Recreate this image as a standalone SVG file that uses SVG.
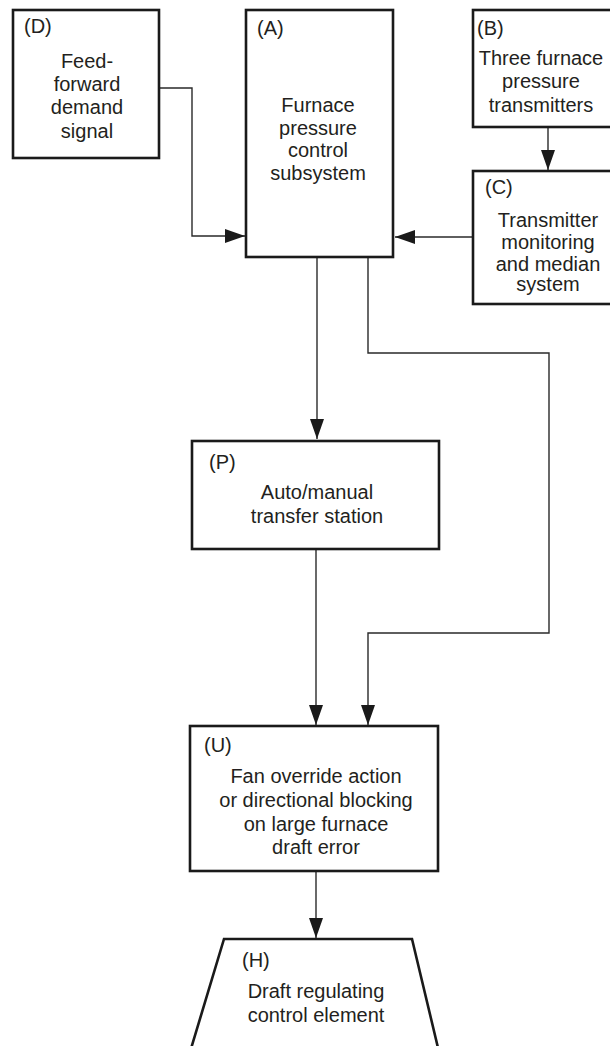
<svg xmlns="http://www.w3.org/2000/svg" width="610" height="1046" viewBox="0 0 610 1046">
  <style>
    .box { fill: #ffffff; stroke: #1a1a1a; stroke-width: 2.6; }
    .conn { fill: none; stroke: #2a2a2a; stroke-width: 1.4; marker-end: url(#arrow); }
    text { font-family: "Liberation Sans", Arial, Helvetica, sans-serif; font-size: 20px; fill: #231f20; }
    .c { text-anchor: middle; }
  </style>
  <defs>
    <marker id="arrow" markerUnits="userSpaceOnUse" markerWidth="21" markerHeight="15" refX="20" refY="7" orient="auto">
      <path d="M0,0 L20,7 L0,14 Z" fill="#1a1a1a"/>
    </marker>
  </defs>
  <rect width="610" height="1046" fill="#ffffff"/>

  <g id="connectors">
    <path class="conn" d="M159,88 H192 V236 H245"/>
    <path class="conn" d="M473,237 H395"/>
    <path class="conn" d="M548,127 V170"/>
    <path class="conn" d="M317,257 V439"/>
    <path class="conn" d="M368,257 V353 H549 V633 H368 V725"/>
    <path class="conn" d="M316,549 V725"/>
    <path class="conn" d="M316,871 V938"/>
  </g>

  <g id="node-D">
    <rect class="box" x="13" y="10" width="146" height="148"/>
    <text x="24" y="33">(D)</text>
    <text class="c" x="87" y="68">Feed-</text>
    <text class="c" x="87" y="91">forward</text>
    <text class="c" x="87" y="114">demand</text>
    <text class="c" x="87" y="138">signal</text>
  </g>

  <g id="node-A">
    <rect class="box" x="246" y="10" width="147" height="247"/>
    <text x="257" y="35">(A)</text>
    <text class="c" x="318" y="112">Furnace</text>
    <text class="c" x="318" y="134.5">pressure</text>
    <text class="c" x="318" y="157">control</text>
    <text class="c" x="318" y="179.5">subsystem</text>
  </g>

  <g id="node-B">
    <rect class="box" x="473" y="10" width="142" height="117"/>
    <text x="477" y="35">(B)</text>
    <text class="c" x="541" y="65">Three furnace</text>
    <text class="c" x="541" y="88">pressure</text>
    <text class="c" x="541" y="112">transmitters</text>
  </g>

  <g id="node-C">
    <rect class="box" x="473" y="171" width="142" height="133"/>
    <text x="485" y="194">(C)</text>
    <text class="c" x="548" y="227">Transmitter</text>
    <text class="c" x="548" y="248.5">monitoring</text>
    <text class="c" x="548" y="271">and median</text>
    <text class="c" x="548" y="291">system</text>
  </g>

  <g id="node-P">
    <rect class="box" x="192" y="441" width="247" height="108"/>
    <text x="209" y="469">(P)</text>
    <text class="c" x="317" y="499">Auto/manual</text>
    <text class="c" x="317" y="523">transfer station</text>
  </g>

  <g id="node-U">
    <rect class="box" x="190" y="726" width="248" height="145"/>
    <text x="204" y="752">(U)</text>
    <text class="c" x="316" y="783">Fan override action</text>
    <text class="c" x="316" y="807">or directional blocking</text>
    <text class="c" x="316" y="831">on large furnace</text>
    <text class="c" x="316" y="854">draft error</text>
  </g>

  <g id="node-H">
    <polygon class="box" points="224,939 412,939 439,1052 190,1052"/>
    <text x="242" y="967">(H)</text>
    <text class="c" x="316" y="998">Draft regulating</text>
    <text class="c" x="316" y="1022">control element</text>
  </g>
</svg>
